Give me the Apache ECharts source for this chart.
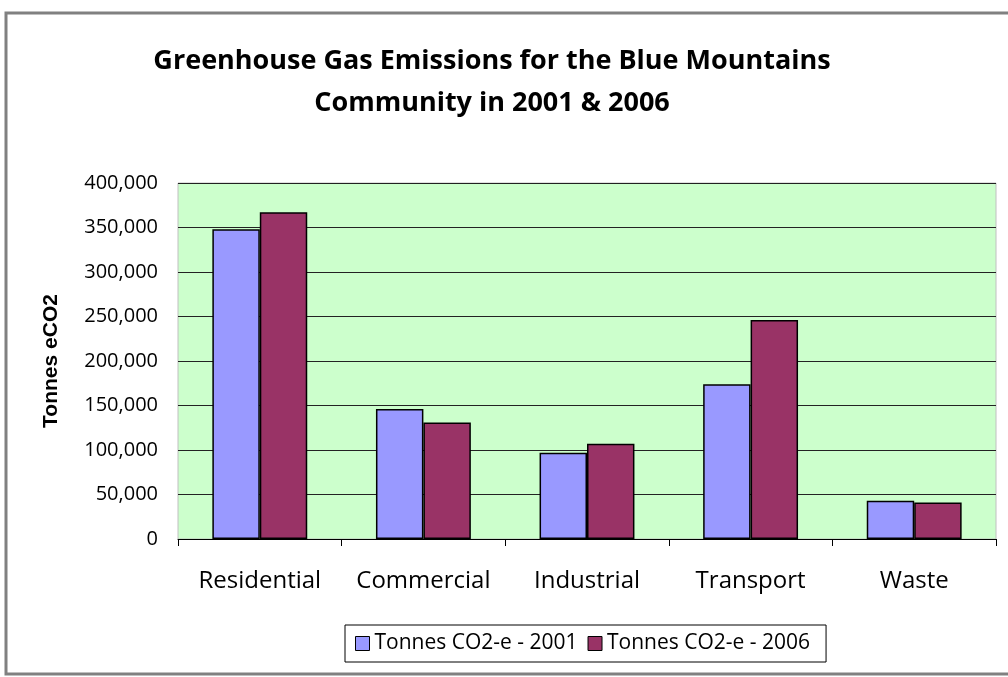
<!DOCTYPE html>
<html>
<head>
<meta charset="utf-8">
<script src="https://cdn.jsdelivr.net/npm/echarts@6/dist/echarts.min.js"></script>
<style>
  html, body { margin: 0; padding: 0; background: #ffffff; }
  #chart { width: 1008px; height: 677px; }
</style>
</head>
<body>
<div id="chart"></div>
<script>
// values
const categories = ["Residential", "Commercial", "Industrial", "Transport", "Waste"];
const emissions2001 = [348000, 146000, 97000, 174000, 43000];
const emissions2006 = [367000, 131000, 107000, 246000, 41000];
const seriesNames = ["Tonnes CO2-e - 2001", "Tonnes CO2-e - 2006"];

const chart = echarts.init(document.getElementById("chart"));

const option = {
  backgroundColor: "#ffffff",
  animation: false,
  title: {
    text: "Greenhouse Gas Emissions for the Blue Mountains\nCommunity in 2001 & 2006",
    left: 487,
    textAlign: "center",
    top: 35,
    textStyle: {
      fontFamily: "Open Sans",
      fontSize: 27,
      fontWeight: "bold",
      color: "#000000",
      lineHeight: 42,
    },
  },
  graphic: [
    {
      type: "rect",
      shape: { x: 6, y: 13, width: 1010, height: 661 },
      style: { fill: "none", stroke: "#808080", lineWidth: 3 },
      silent: true,
    },
  ],
  legend: {
    data: seriesNames,
    icon: "rect",
    left: 345,
    top: 625,
    padding: [8, 16, 8, 10],
    itemGap: 10,
    itemWidth: 14,
    itemHeight: 14,
    borderColor: "#000000",
    borderWidth: 1,
    textStyle: {
      fontFamily: "Open Sans",
      fontSize: 21,
      color: "#000000",
    },
    itemStyle: { borderColor: "#000000", borderWidth: 1 },
  },
  grid: {
    left: 178,
    right: 12,
    top: 183,
    bottom: 138,
    show: true,
    backgroundColor: "#CCFFCC",
    borderColor: "#c0c0c0",
    borderWidth: 1,
  },
  xAxis: {
    type: "category",
    data: categories,
    axisLine: { lineStyle: { color: "#000000", width: 1 } },
    axisTick: { show: true, interval: 0, length: 7, lineStyle: { color: "#000000" } },
    axisLabel: {
      interval: 0,
      margin: 30,
      fontFamily: "Open Sans",
      fontSize: 24,
      color: "#000000",
    },
  },
  yAxis: {
    type: "value",
    min: 0,
    max: 400000,
    interval: 50000,
    name: "Tonnes eCO2",
    nameLocation: "middle",
    nameGap: 116,
    nameTextStyle: {
      fontFamily: "Liberation Sans",
      fontSize: 21,
      fontWeight: "bold",
      color: "#000000",
    },
    axisLine: { show: false },
    axisTick: { show: false },
    splitLine: { lineStyle: { color: "#222222", width: 1 } },
    axisLabel: {
      margin: 20,
      fontFamily: "Open Sans",
      fontSize: 20,
      color: "#000000",
      formatter: (v) => v.toLocaleString("en-US"),
    },
  },
  series: [
    {
      name: seriesNames[0],
      type: "bar",
      data: emissions2001,
      barGap: "0%",
      barCategoryGap: "42%",
      itemStyle: { color: "#9999FF", borderColor: "#000000", borderWidth: 1.5 },
    },
    {
      name: seriesNames[1],
      type: "bar",
      data: emissions2006,
      itemStyle: { color: "#993366", borderColor: "#000000", borderWidth: 1.5 },
    },
  ],
};

chart.setOption(option);
</script>
</body>
</html>
